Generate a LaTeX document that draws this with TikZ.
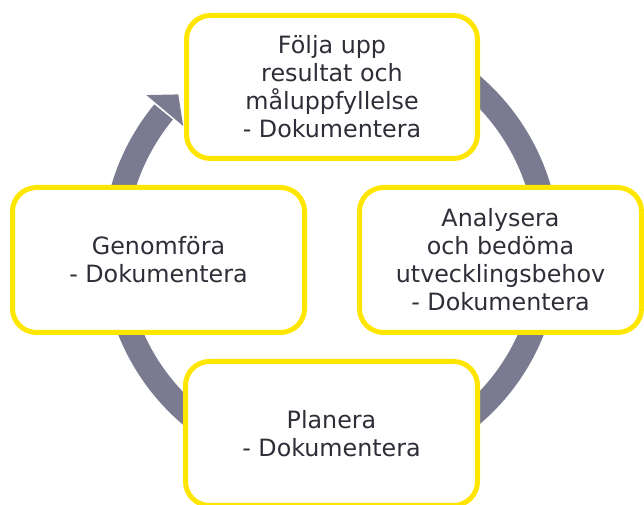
\documentclass[tikz,border=0pt]{standalone}
\usepackage{fontspec}
\setmainfont{DejaVu Sans}
\usetikzlibrary{calc}
\definecolor{eyyellow}{HTML}{FFE600}
\definecolor{ringgray}{HTML}{7A7A91}
\definecolor{txtgray}{HTML}{2E2E38}
\tikzset{
  stagebox/.style={draw=eyyellow, line width=5pt, rounded corners=24pt, fill=white,
    inner sep=0pt, align=center, text=txtgray,
    font=\fontsize{23.8}{28}\selectfont},
  ringline/.style={draw=ringgray, line width=24pt},
  ringhead/.style={fill=ringgray, draw=none}
}
\begin{document}
\begin{tikzpicture}[x=1pt,y=1pt]
\useasboundingbox (0,0) rectangle (644,505);
% circular arrow
\coordinate (ringc) at (331,255);
\draw[ringline] ([shift={(75:217)}]ringc) arc[start angle=75, end angle=-219.5, radius=217];
\coordinate (hbase) at ([shift={(140:217)}]ringc);
\coordinate (htip) at ($(hbase)+(50:21)$);
\coordinate (hb1) at ($(hbase)+(140:24)$);
\coordinate (hb2) at ($(hbase)+(-40:24)$);
\fill[ringhead] (hb1) -- (htip) -- (hb2) -- cycle;
% boxes
\node[stagebox, minimum width=291pt, minimum height=143pt] (folja) at (332,418)
  {Följa upp\\resultat och\\måluppfyllelse\\- Dokumentera};
\node[stagebox, minimum width=282pt, minimum height=145pt] (analys) at (500.5,245)
  {Analysera\\och bedöma\\utvecklingsbehov\\- Dokumentera};
\node[stagebox, minimum width=292pt, minimum height=145pt] (genom) at (158.5,245)
  {Genomföra\\- Dokumentera};
\node[stagebox, minimum width=292pt, minimum height=144pt] (planera) at (331.5,71.5)
  {Planera\\- Dokumentera};
\end{tikzpicture}
\end{document}
